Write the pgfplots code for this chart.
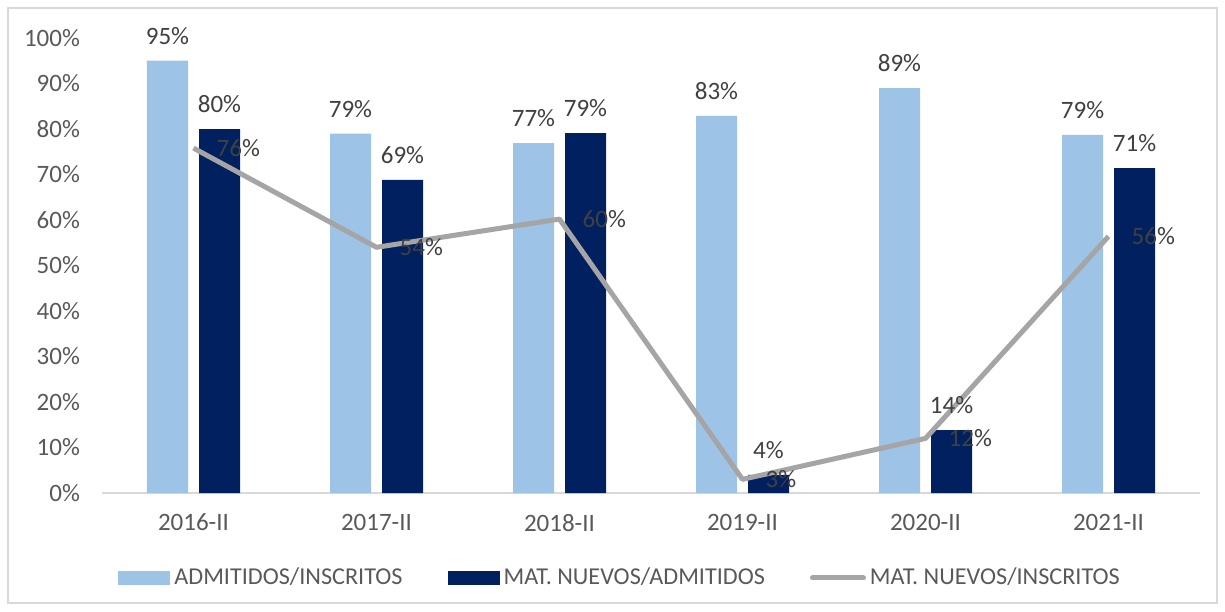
\documentclass[border=0pt]{standalone}
\usepackage{pgfplots}
\pgfplotsset{compat=1.18}
\usepackage{fontspec}
\setmainfont{Carlito}
\definecolor{lightbar}{HTML}{9DC3E6}
\definecolor{darkbar}{HTML}{002060}
\definecolor{linegray}{HTML}{A5A5A5}
\definecolor{labelgray}{HTML}{404040}
\definecolor{tickgray}{HTML}{595959}
\definecolor{framegray}{HTML}{D9D9D9}
\newcommand{\chartfont}{\fontsize{12.5}{14}\selectfont}
\newcommand{\legendfont}{\fontsize{12.1}{14}\selectfont}

\begin{document}
\begin{tikzpicture}[x=0.5pt,y=0.5pt]
  % outer frame and page size (1 px = 0.5pt, origin at lower left of plot area)
  \useasboundingbox (-102,-118) rectangle (1123,493);
  \draw[framegray, line width=0.6pt] (-94,-110) rectangle (1115,485);
  \begin{axis}[
      at={(0,0)}, anchor=south west,
      scale only axis,
      width=549pt, height=227.5pt,
      xmin=-0.5, xmax=5.5,
      ymin=0, ymax=100,
      enlargelimits=false,
      clip=false,
      axis x line*=bottom,
      axis y line*=left,
      x axis line style={draw=framegray, line width=0.8pt, -},
      y axis line style={draw=none},
      major tick length=0pt,
      xtick={0,1,2,3,4,5},
      xticklabels={2016-II,2017-II,2018-II,2019-II,2020-II,2021-II},
      ytick={0,10,...,100},
      yticklabel={\pgfmathprintnumber{\tick}\%},
      /pgf/number format/assume math mode=true,
      tick label style={font=\chartfont, text=tickgray},
      xticklabel style={yshift=-7pt},
      yticklabel style={xshift=-7.5pt},
      legend columns=3,
      legend style={
        at={(0.01457,-0.1868)}, anchor=west,
        draw=none, fill=none, inner sep=0pt,
        font=\legendfont, text=tickgray,
        /tikz/every even column/.append style={column sep=20.5pt},
      },
      legend cell align=left,
    ]
    \addplot[ybar, bar width=20.5pt, bar shift=-13pt, fill=lightbar, draw=none,
      nodes near coords={\pgfmathprintnumber[fixed,precision=0]{\pgfplotspointmeta}\%},
      every node near coord/.append style={font=\chartfont, text=labelgray, anchor=south, xshift=-13pt, yshift=4.5pt},
      legend image code/.code={\fill[lightbar] (0pt,-3.5pt) rectangle (26pt,3.5pt);}]
      coordinates {(0,95) (1,79) (2,76.9) (3,82.9) (4,89) (5,78.7)};
    \addlegendentry{ADMITIDOS/INSCRITOS}
    \addplot[ybar, bar width=20.5pt, bar shift=13pt, fill=darkbar, draw=none,
      nodes near coords={\pgfmathprintnumber[fixed,precision=0]{\pgfplotspointmeta}\%},
      every node near coord/.append style={font=\chartfont, text=labelgray, anchor=south, xshift=13pt, yshift=4.5pt},
      legend image code/.code={\fill[darkbar] (0pt,-3.5pt) rectangle (26pt,3.5pt);}]
      coordinates {(0,80) (1,68.8) (2,79.1) (3,4) (4,13.8) (5,71.4)};
    \addlegendentry{MAT. NUEVOS/ADMITIDOS}
    \addplot[linegray, line width=2.5pt, line join=round, mark=none,
      nodes near coords={\pgfmathprintnumber[fixed,precision=0]{\pgfplotspointmeta}\%},
      every node near coord/.append style={font=\chartfont, text=labelgray, anchor=west, xshift=7pt},
      legend image code/.code={\draw[linegray, line width=2.5pt, line cap=round] (1.25pt,0pt) -- (26.75pt,0pt);}]
      coordinates {(0,75.8) (1,54) (2,60.2) (3,3) (4,12) (5,56.4)};
    \addlegendentry{MAT. NUEVOS/INSCRITOS}
  \end{axis}
\end{tikzpicture}
\end{document}
